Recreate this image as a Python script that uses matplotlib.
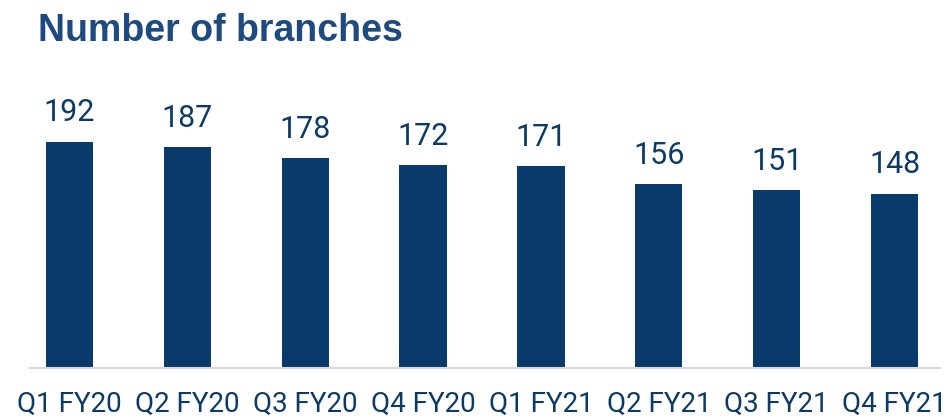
import matplotlib
matplotlib.use("Agg")
import matplotlib.pyplot as plt

# Datos del gráfico
quarters = ["Q1 FY20", "Q2 FY20", "Q3 FY20", "Q4 FY20",
            "Q1 FY21", "Q2 FY21", "Q3 FY21", "Q4 FY21"]
branches = [192, 187, 178, 172, 171, 156, 151, 148]

bar_color = "#083A6B"
text_color = "#0B3A66"
title_color = "#1F4A80"

fig = plt.figure(figsize=(9.49, 4.18), dpi=100)
ax = fig.add_axes([0.032, 0.119, 0.958, 0.740])

x = range(len(quarters))
bars = ax.bar(x, branches, width=0.40, color=bar_color, zorder=2)

# Etiquetas de valor sobre las barras
for xi, v in zip(x, branches):
    ax.text(xi, v + 12, str(v), ha="center", va="bottom",
            fontsize=22, color=text_color, family="Roboto")

ax.set_xlim(-0.33, 7.38)
ax.set_ylim(0, 262)
ax.set_xticks(list(x))
ax.set_xticklabels(quarters, fontsize=20, color=text_color, family="Roboto")
ax.tick_params(axis="x", length=0, pad=16)
ax.set_yticks([])

for side in ["left", "right", "top"]:
    ax.spines[side].set_visible(False)
ax.spines["bottom"].set_color("#D9D9D9")
ax.spines["bottom"].set_linewidth(1.5)

fig.text(0.040, 0.925, "Number of branches", fontsize=27, fontweight="bold",
         color=title_color, family="Liberation Sans", va="center", ha="left")

fig.savefig("out.png", dpi=100)
